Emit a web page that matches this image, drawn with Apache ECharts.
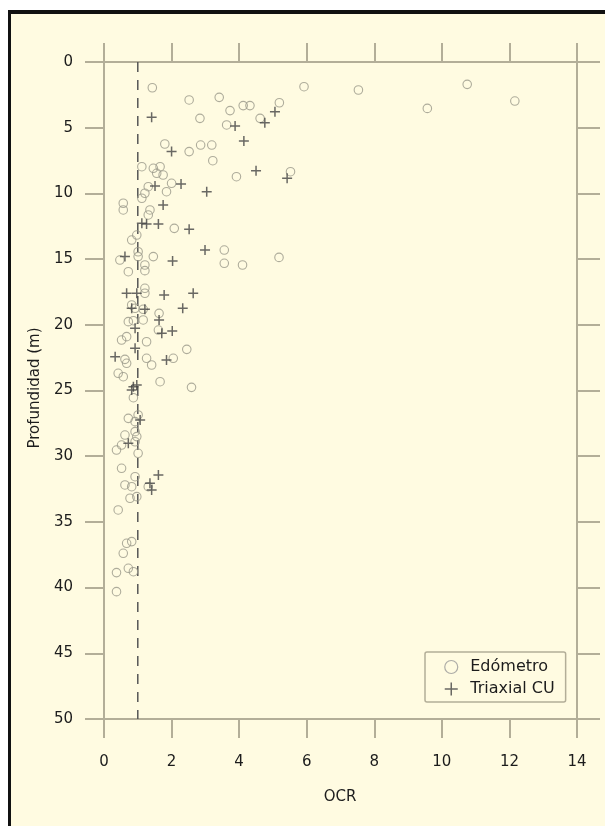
<!DOCTYPE html>
<html>
<head>
<meta charset="utf-8">
<script src="https://cdn.jsdelivr.net/npm/echarts@6/dist/echarts.min.js"></script>
<style>
html,body{margin:0;padding:0;background:#ffffff;width:605px;height:826px;overflow:hidden;}
#frame{position:absolute;left:8px;top:10px;width:597px;height:816px;background:#fffbe1;border-top:4px solid #111;border-left:3px solid #111;box-sizing:border-box;}
#chart{position:absolute;left:0;top:0;width:605px;height:826px;}
</style>
</head>
<body>
<div id="frame"></div>
<div id="chart"></div>
<script>
// OCR range and depth range
const xTicks = [0, 2, 4, 6, 8, 10, 12, 14];
const yTicks = [0, 5, 10, 15, 20, 25, 30, 35, 40, 45, 50];
const seriesNames = ['Edómetro', 'Triaxial CU'];
const axisNames = ['OCR', 'Profundidad (m)'];

// Edómetro: [OCR, profundidad (m)]
const edometroPoints = [
  [1.43,1.96],[5.92,1.88],[7.53,2.13],[10.75,1.70],[12.16,2.97],[9.57,3.53],
  [2.52,2.89],[3.41,2.69],[5.19,3.10],[4.12,3.32],[4.32,3.32],[3.73,3.70],
  [2.84,4.29],[3.63,4.79],[4.62,4.29],[1.80,6.24],[2.52,6.82],[2.86,6.32],
  [3.19,6.32],[3.22,7.51],[5.52,8.35],[3.92,8.73],[1.12,7.97],[1.46,8.09],
  [1.66,7.97],[1.56,8.47],[1.75,8.60],[2.00,9.23],[1.31,9.49],[1.85,9.87],
  [1.21,9.99],[1.12,10.37],[0.57,10.75],[0.57,11.26],[1.36,11.26],[1.31,11.64],
  [2.08,12.66],[0.97,13.17],[0.82,13.55],[3.56,14.31],[3.56,15.32],[4.10,15.45],
  [5.18,14.87],[0.47,15.07],[1.01,14.44],[1.01,14.81],[1.46,14.81],[1.21,15.45],
  [0.72,15.96],[1.21,15.88],[1.21,17.22],[1.21,17.60],[0.82,18.49],[0.92,18.74],
  [1.16,18.82],[1.63,19.13],[0.72,19.76],[0.87,19.69],[1.16,19.63],[1.61,20.40],
  [0.52,21.16],[0.67,20.90],[1.26,21.29],[2.45,21.87],[0.62,22.63],[0.67,22.93],
  [1.26,22.55],[1.41,23.06],[2.05,22.55],[0.42,23.69],[0.57,23.95],[1.66,24.33],
  [2.59,24.76],[0.87,25.55],[0.72,27.12],[1.01,26.86],[0.92,27.37],[0.62,28.39],
  [0.92,28.13],[0.97,28.51],[0.37,29.53],[0.52,29.15],[0.92,28.90],[1.01,29.78],
  [0.52,30.92],[0.92,31.56],[0.62,32.19],[0.82,32.32],[1.31,32.32],[0.77,33.20],
  [0.97,33.08],[0.42,34.09],[0.67,36.63],[0.82,36.50],[0.57,37.39],[0.72,38.53],
  [0.87,38.79],[0.37,38.86],[0.37,40.31]
];

// Triaxial CU: [OCR, profundidad (m)]
const triaxialPoints = [
  [1.41,4.21],[3.88,4.87],[4.76,4.62],[5.06,3.78],[4.14,6.01],[2.00,6.82],
  [4.50,8.27],[5.42,8.85],[2.28,9.28],[1.51,9.44],[3.04,9.87],[1.75,10.88],
  [1.12,12.28],[1.26,12.33],[1.61,12.33],[2.52,12.73],[2.99,14.31],[2.03,15.14],
  [0.62,14.81],[0.67,17.60],[0.97,17.60],[1.78,17.73],[2.64,17.60],[0.82,18.74],
  [1.21,18.82],[2.33,18.74],[1.63,19.63],[0.92,20.27],[1.71,20.65],[2.02,20.47],
  [0.92,21.79],[0.33,22.43],[1.85,22.68],[0.87,24.71],[0.82,24.96],[0.97,24.58],
  [1.07,27.25],[0.72,29.02],[1.61,31.43],[1.36,32.06],[1.41,32.57]
];

// Reference line OCR = 1
const refLine = [[1, 0], [1, 50]];

const axisColor = '#b3ae98';
const fontFam = '"DejaVu Sans", sans-serif';
const plusPath = 'path://M-5,0L5,0M0,-5L0,5';

const chart = echarts.init(document.getElementById('chart'), null, {renderer: 'canvas'});
chart.setOption({
  backgroundColor: 'transparent',
  animation: false,
  grid: {left: 104, top: 62, right: 28, bottom: 107, containLabel: false},
  xAxis: [
    {
      type: 'value', position: 'bottom', min: xTicks[0], max: xTicks[xTicks.length-1], interval: 2,
      axisLine: {show: true, onZero: false, lineStyle: {color: axisColor, width: 2}},
      axisTick: {show: true, inside: false, length: 19, lineStyle: {color: axisColor, width: 2}},
      axisLabel: {show: true, margin: 36, color: '#1c1c1c', fontSize: 15, fontFamily: fontFam},
      splitLine: {show: false}
    },
    {
      type: 'value', position: 'top', min: xTicks[0], max: xTicks[xTicks.length-1], interval: 2,
      axisLine: {show: true, onZero: false, lineStyle: {color: axisColor, width: 2}},
      axisTick: {show: true, inside: false, length: 19, lineStyle: {color: axisColor, width: 2}},
      axisLabel: {show: false},
      splitLine: {show: false}
    }
  ],
  yAxis: [
    {
      type: 'value', position: 'left', inverse: true, min: yTicks[0], max: yTicks[yTicks.length-1], interval: 5,
      axisLine: {show: true, onZero: false, lineStyle: {color: axisColor, width: 2}},
      axisTick: {show: true, inside: false, length: 19, lineStyle: {color: axisColor, width: 2}},
      axisLabel: {show: true, margin: 31, color: '#1c1c1c', fontSize: 15, fontFamily: fontFam},
      splitLine: {show: false}
    },
    {
      type: 'value', position: 'right', inverse: true, min: yTicks[0], max: yTicks[yTicks.length-1], interval: 5,
      axisLine: {show: true, onZero: false, lineStyle: {color: axisColor, width: 2}},
      axisTick: {show: true, inside: false, length: 23, lineStyle: {color: axisColor, width: 2}},
      axisLabel: {show: false},
      splitLine: {show: false}
    }
  ],
  legend: {
    orient: 'vertical', left: 425, top: 652,
    padding: [7, 11, 5, 19], itemGap: 6, itemWidth: 28, itemHeight: 13,
    borderColor: axisColor, borderWidth: 1.5, borderRadius: 2,
    backgroundColor: '#fffbe1',
    textStyle: {color: '#1c1c1c', fontSize: 16, fontFamily: fontFam},
    data: [
      {name: seriesNames[0], icon: 'circle', itemStyle: {color: 'transparent', borderColor: '#999', borderWidth: 1.2}},
      {name: seriesNames[1], icon: plusPath, itemStyle: {color: 'transparent', borderColor: '#444', borderWidth: 1.5}}
    ]
  },
  graphic: [
    {type: 'text', x: 340, y: 797, style: {text: axisNames[0], fill: '#1c1c1c', font: '15px ' + fontFam, align: 'center', verticalAlign: 'middle'}},
    {type: 'text', x: 35, y: 388, rotation: Math.PI / 2, style: {text: axisNames[1], fill: '#1c1c1c', font: '15px ' + fontFam, align: 'center', verticalAlign: 'middle'}}
  ],
  series: [
    {
      name: 'ref', type: 'line', data: refLine, symbol: 'none', silent: true,
      lineStyle: {color: '#555', width: 1.5, type: [10, 8]}, z: 1
    },
    {
      name: seriesNames[0], type: 'scatter', data: edometroPoints, symbol: 'circle', symbolSize: 8.5,
      itemStyle: {color: 'transparent', borderColor: '#9a988a', borderWidth: 1.1}, z: 2
    },
    {
      name: seriesNames[1], type: 'scatter', data: triaxialPoints, symbol: plusPath, symbolSize: 10, symbolKeepAspect: true,
      itemStyle: {color: 'transparent', borderColor: '#444', borderWidth: 1.5}, z: 3
    }
  ]
});
</script>
</body>
</html>
